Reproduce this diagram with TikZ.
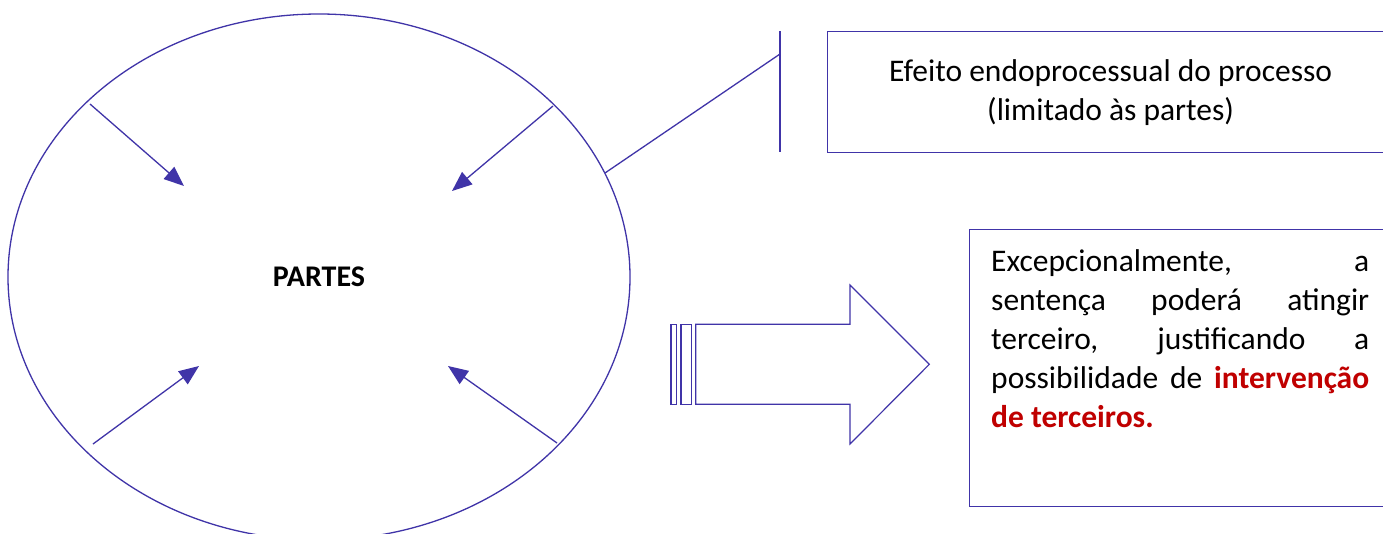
\documentclass[tikz,border=0pt]{standalone}
\usepackage{fontspec}
\setmainfont{Carlito}
\usetikzlibrary{shapes.geometric,arrows.meta}
\definecolor{lc}{RGB}{64,52,168}
\definecolor{redtxt}{RGB}{192,0,0}
\begin{document}
\begin{tikzpicture}[x=1pt,y=-1pt,
  outline/.style={draw=lc,line width=1.3pt},
  inarrow/.style={draw=lc,line width=1.3pt,-{Triangle[length=20pt,width=16pt,fill=lc]}},
  txt/.style={font=\fontsize{31.5}{39}\selectfont,inner sep=0pt}]
\useasboundingbox (0,0) rectangle (1383,533);
\clip (0,0) rectangle (1383,533);
\fill[white] (0,0) rectangle (1383,533);
% ellipse
\node[ellipse,outline,minimum width=622pt,minimum height=526pt,inner sep=0pt,
      font=\fontsize{30}{36}\selectfont\bfseries] (partes) at (319,277) {PARTES};
% inward arrows
\coordinate (a1s) at (90,104);  \coordinate (a1e) at (184,186);
\coordinate (a2s) at (553,106); \coordinate (a2e) at (452,191);
\coordinate (a3s) at (93,444);  \coordinate (a3e) at (199,366);
\coordinate (a4s) at (557,443); \coordinate (a4e) at (448,366);
\draw[inarrow] (a1s) -- (a1e);
\draw[inarrow] (a2s) -- (a2e);
\draw[inarrow] (a3s) -- (a3e);
\draw[inarrow] (a4s) -- (a4e);
% callout
\coordinate (vtop) at (780,31);
\coordinate (vbot) at (780,152);
\coordinate (vjoin) at (780,54);
\draw[outline] (vtop) -- (vbot);
\draw[outline] (partes.20) -- (vjoin);
% box 1
\node[outline,rectangle,anchor=north west,minimum width=566pt,minimum height=121pt,
      inner sep=0pt,align=center,font=\fontsize{31.5}{39}\selectfont] (box1) at (827,31)
      {Efeito endoprocessual do processo\\(limitado às partes)};
% block arrow
\draw[outline,line width=1.2pt] (695.7,324.3) -- (850,324.3) -- (850,285) -- (929.3,364.3)
     -- (850,444) -- (850,404.3) -- (695.7,404.3) -- cycle;
\draw[outline,line width=1.2pt] (671,324.3) rectangle (676.3,404.3);
\draw[outline,line width=1.2pt] (681,324.3) rectangle (691.7,404.3);
% box 2
\node[outline,rectangle,anchor=north west,minimum width=430pt,minimum height=277pt,
      inner sep=0pt] (box2) at (969,229) {};
\node[txt,anchor=north west,align=left] (t2) at (991,249)
  {\makebox[378pt][s]{Excepcionalmente, a}\\
   \makebox[378pt][s]{sentença poderá atingir}\\
   \makebox[378pt][s]{terceiro, justificando a}\\
   \makebox[378pt][s]{possibilidade de \textcolor{redtxt}{\bfseries intervenção}}\\
   \textcolor{redtxt}{\bfseries de terceiros.}};
\end{tikzpicture}
\end{document}
